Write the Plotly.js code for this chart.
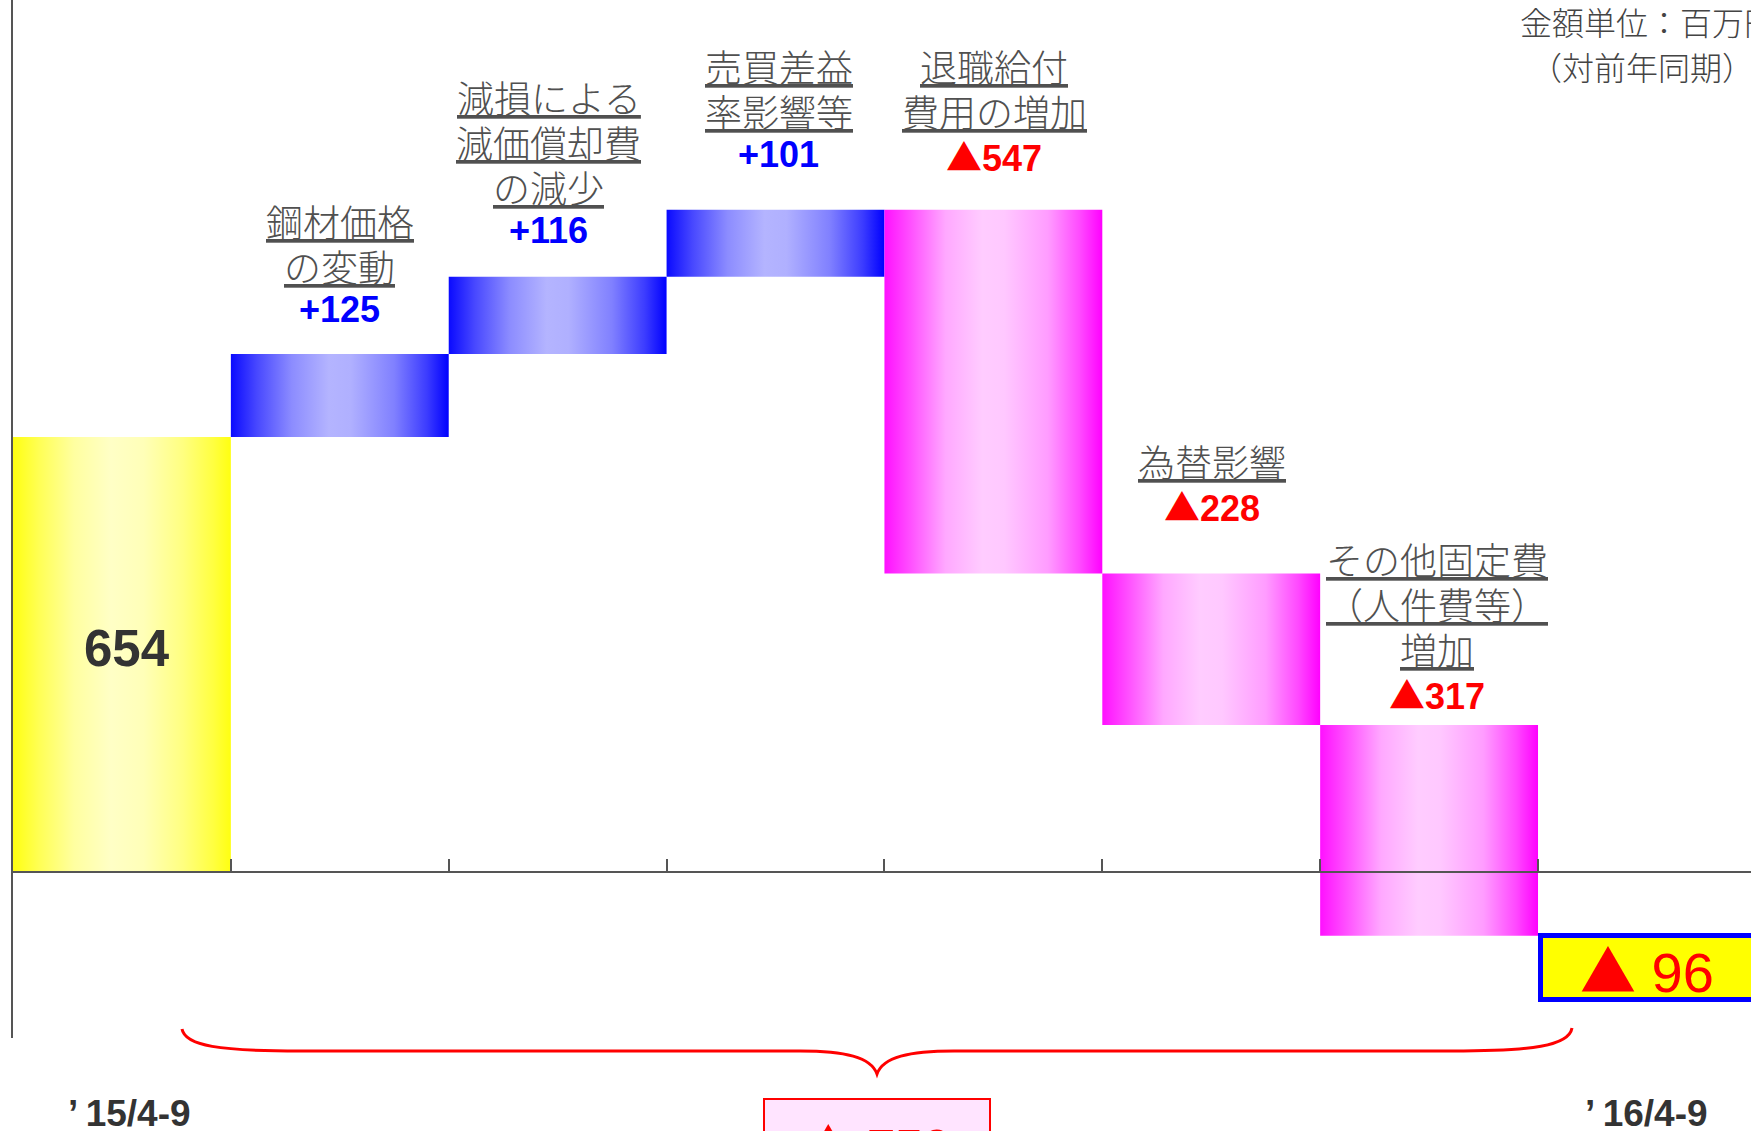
<!DOCTYPE html>
<html>
<head>
<meta charset="utf-8">
<script src="https://cdn.plot.ly/plotly-3.0.1.min.js"></script>
<style>html,body{margin:0;padding:0;background:#fff;overflow:hidden}</style>
</head>
<body>
<div id="chart" style="width:1751px;height:1131px"></div>
<script>
// ---------------- data ----------------
const periodLabels = ["’\u200915/4-9", "’\u200916/4-9"];
const startValue = 654;
const changeLabels = [
  ["鋼材価格", "の変動"],
  ["減損による", "減価償却費", "の減少"],
  ["売買差益", "率影響等"],
  ["退職給付", "費用の増加"],
  ["為替影響"],
  ["その他固定費", "（人件費等）", "増加"]
];
const changeValues = [125, 116, 101, -547, -228, -317];
const unitNote = ["金額単位：百万円", "（対前年同期）"];

// ---------------- layout constants ----------------
const W = 1751, H = 1131;
const M = {l: 13, r: 0, t: 0, b: 93};
const plotW = W - M.l - M.r, plotH = H - M.t - M.b;
const slotPx = 217.86, zeroPx = 872, pxPerUnit = 0.665;
const xRange = [-0.5, -0.5 + plotW / slotPx];
const yRange = [-(plotH - zeroPx) / pxPerUnit, zeroPx / pxPerUnit];
const valueGapPx = [44, 46, 55, 55, 68, 32];   // label offsets above bar tops
const labelShiftPx = [0, -9, 3, 1, 1, 8];
const linePitch = 45;
const px2x = px => (px - M.l) / plotW;
const py2y = py => (plotH + M.t - py) / plotH;

const TRI = '<span style="font-family:\'Noto Sans CJK JP\'">▲</span>';
const fmt = v => (v >= 0 ? "+" + v : TRI + Math.abs(v));

const yellowScale = [[0,'#ffff10'],[0.12,'#ffff55'],[0.28,'#ffffa0'],[0.45,'#ffffc6'],[0.6,'#ffffb8'],[0.78,'#ffff80'],[0.92,'#ffff40'],[1,'#ffff10']];
const blueScale = [[0,'#0a0aff'],[0.12,'#4848ff'],[0.28,'#8c8cff'],[0.45,'#b4b4ff'],[0.55,'#b0b0ff'],[0.75,'#8080ff'],[0.9,'#3c3cff'],[1,'#0000ff']];
const magentaScale = [[0,'#ff10ff'],[0.12,'#ff50ff'],[0.28,'#ffa8ff'],[0.45,'#ffccff'],[0.55,'#ffc8ff'],[0.75,'#ff9cff'],[0.9,'#ff48ff'],[1,'#ff00ff']];

function rectTrace(i, y0, y1, scale, solid) {
  return {
    type: 'scatter',
    x: [i - 0.5, i + 0.5, i + 0.5, i - 0.5, i - 0.5],
    y: [y0, y0, y1, y1, y0],
    mode: 'lines', line: {width: 0, color: solid},
    fill: 'toself', fillcolor: solid,
    fillgradient: {type: 'horizontal', colorscale: scale},
    hoverinfo: 'skip', showlegend: false
  };
}

const traces = [rectTrace(0, 0, startValue, yellowScale, '#ffff80')];
const annotations = [];
let running = startValue;
changeValues.forEach((v, k) => {
  const i = k + 1;
  const y0 = running, y1 = running + v;
  running = y1;
  traces.push(rectTrace(i, y0, y1, v >= 0 ? blueScale : magentaScale, v >= 0 ? '#8080ff' : '#ff90ff'));
  const top = Math.max(y0, y1);
  annotations.push({
    x: i, y: top, xref: 'x', yref: 'y', yanchor: 'middle', yshift: valueGapPx[k], xshift: labelShiftPx[k],
    showarrow: false, text: '<b>' + fmt(v) + '</b>',
    font: {family: 'Arial, "Liberation Sans", sans-serif', size: 36, color: v >= 0 ? '#0000ff' : '#ff0000'}
  });
  const lines = changeLabels[k];
  lines.slice().reverse().forEach((ln, j) => {
    annotations.push({
      x: i, y: top, xref: 'x', yref: 'y', yanchor: 'middle', xshift: labelShiftPx[k],
      yshift: valueGapPx[k] + 44 + j * linePitch,
      showarrow: false, text: '<u>' + ln + '</u>',
      font: {family: '"Noto Sans CJK JP", sans-serif', size: 37, weight: 300, color: '#505050'}
    });
  });
});
const endValue = running;
const totalChange = endValue - startValue;

// start value label
annotations.push({
  x: 0, y: startValue / 2, xref: 'x', yref: 'y', xshift: 5, yshift: 6, showarrow: false,
  text: '<b>' + startValue + '</b>',
  font: {family: 'Arial, "Liberation Sans", sans-serif', size: 51, color: '#333333'}
});
// end value box
annotations.push({
  x: changeValues.length + 1, y: endValue, xref: 'x', yref: 'y', yanchor: 'top', yshift: 3,
  showarrow: false, text: TRI + ' ' + Math.abs(endValue),
  width: 208, height: 59, borderwidth: 5, borderpad: 0, bordercolor: '#0000ff', bgcolor: '#ffff00',
  font: {family: 'Arial, "Liberation Sans", sans-serif', size: 56, color: '#ff0000'}
});
// total change box
annotations.push({
  x: px2x(877), y: py2y(1098), xref: 'paper', yref: 'paper', xanchor: 'center', yanchor: 'top',
  showarrow: false, text: '<b>' + TRI + ' ' + Math.abs(totalChange) + '</b>', valign: 'middle',
  width: 224, height: 85, borderwidth: 2, borderpad: 0, bordercolor: '#ff0000', bgcolor: '#ffe4ff',
  font: {family: 'Arial, "Liberation Sans", sans-serif', size: 50, color: '#ff0000'}
});
// period labels
[0, changeValues.length + 1].forEach((xi, k) => {
  annotations.push({
    x: xi, y: py2y(1113), xref: 'x', yref: 'paper', yanchor: 'middle', xshift: k === 0 ? 8 : 0,
    showarrow: false, text: '<b>' + periodLabels[k] + '</b>',
    font: {family: 'Arial, "Liberation Sans", sans-serif', size: 37, color: '#333333'}
  });
});
// unit note
annotations.push({
  x: px2x(1518), y: py2y(21), xref: 'paper', yref: 'paper', xanchor: 'left', yanchor: 'middle',
  showarrow: false, text: unitNote[0],
  font: {family: '"Noto Sans CJK JP", sans-serif', size: 32, weight: 300, color: '#444444'}
});
annotations.push({
  x: px2x(1642), y: py2y(66), xref: 'paper', yref: 'paper', xanchor: 'center', yanchor: 'middle',
  showarrow: false, text: unitNote[1],
  font: {family: '"Noto Sans CJK JP", sans-serif', size: 32, weight: 300, color: '#444444'}
});

// brace under the change bars
function P(px, py) { return px2x(px).toFixed(5) + ',' + py2y(py).toFixed(5); }
const bracePath = 'M' + P(182, 1029) +
  ' C' + P(185, 1046) + ' ' + P(220, 1051) + ' ' + P(300, 1051) +
  ' L' + P(800, 1051) +
  ' C' + P(845, 1051) + ' ' + P(871, 1057) + ' ' + P(877, 1074) +
  ' C' + P(883, 1057) + ' ' + P(909, 1051) + ' ' + P(954, 1051) +
  ' L' + P(1452, 1051) +
  ' C' + P(1532, 1051) + ' ' + P(1569, 1046) + ' ' + P(1572, 1028);

const layout = {
  width: W, height: H,
  margin: M,
  paper_bgcolor: '#ffffff', plot_bgcolor: 'rgba(0,0,0,0)',
  showlegend: false,
  xaxis: {
    range: xRange, anchor: 'free', position: -yRange[0] / (yRange[1] - yRange[0]),
    showgrid: false, zeroline: false, showline: true, linecolor: '#555555', linewidth: 2,
    tickvals: changeValues.map((_, k) => k + 0.5).concat([changeValues.length + 0.5]),
    ticks: 'inside', ticklen: 12, tickwidth: 2, tickcolor: '#555555',
    showticklabels: false, fixedrange: true, automargin: false
  },
  yaxis: {
    range: yRange, showgrid: false, zeroline: false, showline: true,
    linecolor: '#555555', linewidth: 2, ticks: '', showticklabels: false,
    fixedrange: true, automargin: false
  },
  shapes: [{
    type: 'path', xref: 'paper', yref: 'paper', path: bracePath,
    line: {color: '#ff0000', width: 3}, fillcolor: 'rgba(0,0,0,0)', layer: 'above'
  }],
  annotations: annotations
};

Plotly.newPlot('chart', traces, layout, {displayModeBar: false, staticPlot: true});
</script>
</body>
</html>
